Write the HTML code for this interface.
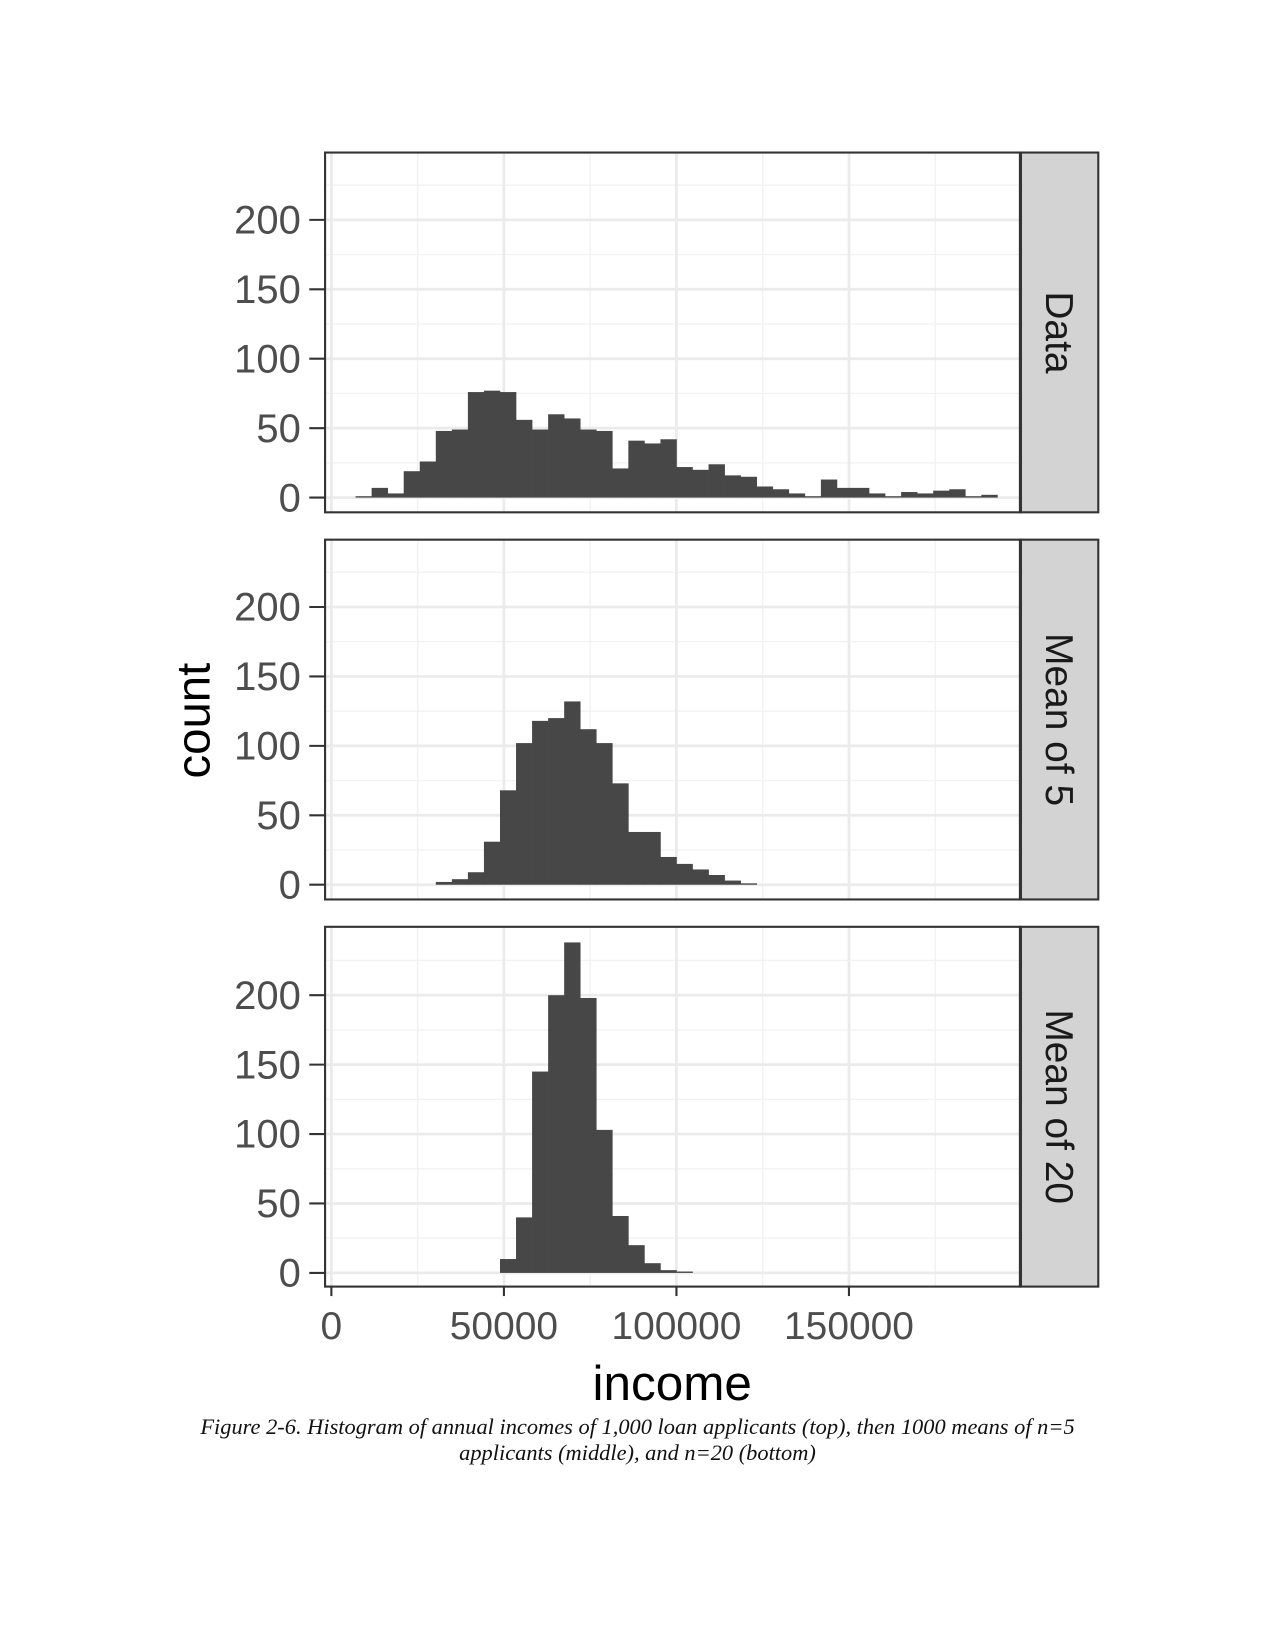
<!DOCTYPE html>
<html><head><meta charset="utf-8"><style>
html,body{margin:0;padding:0;background:#fff;overflow:hidden;width:1275px;height:1650px;}
svg{display:block;}
#wrap{position:relative;width:1212px;height:1568px;overflow:hidden;transform:scale(1.052);transform-origin:0 0;}
.cap{position:absolute;left:0;top:1344px;width:1212px;text-align:center;font-family:"Liberation Serif",serif;font-style:italic;font-size:21.3px;line-height:25px;color:#111;}
</style></head><body>
<div id="wrap">
<svg id="chart" width="1212" height="1568"></svg>
<div class="cap">Figure 2-6. Histogram of annual incomes of 1,000 loan applicants (top), then 1000 means of n=5<br>applicants (middle), and n=20 (bottom)</div>
</div>
<script>
const panelNames = ["Data","Mean of 5","Mean of 20"];
const binWidth = 4650;
const binStart = 7012;
const dataStartBin = 0;
const dataCounts = [1,7,3,19,26,48,49,76,77,76,56,49,60,57,49,48,21,41,39,42,22,20,24,16,15,8,6,3,1,13,7,7,3,1,4,3,5,6,1,2];
const mean5StartBin = 5;
const mean5Counts = [2,4,9,31,68,102,118,120,132,112,102,73,38,38,20,15,11,7,3,1];
const mean20StartBin = 9;
const mean20Counts = [10,40,145,200,238,198,103,41,20,7,2,1];
const yTicks = [0,50,100,150,200];
const xTicks = [0,50000,100000,150000];

const NS="http://www.w3.org/2000/svg";
const svg=document.getElementById('chart');
function el(t,a,p){const e=document.createElementNS(NS,t);for(const k in a)e.setAttribute(k,a[k]);(p||svg).appendChild(e);return e;}
const PL=309,PR=970,SR=1044;
const tops=[145,513,881],H=342;
const zeroY=[473,841,1210];
const pxPerCount=1.32;
function xs(v){return 315+(v/50000)*164;}
const series=[[dataStartBin,dataCounts],[mean5StartBin,mean5Counts],[mean20StartBin,mean20Counts]];
for(let p=0;p<3;p++){
  const g=el('g',{});
  
  
  const ys=v=>zeroY[p]-v*pxPerCount;
  const t=tops[p];
  el('rect',{x:PL,y:t,width:PR-PL,height:H,fill:'#fff'},g);
  for(let v=25000;v<200000;v+=50000) el('line',{x1:xs(v),x2:xs(v),y1:t,y2:t+H,stroke:'#f2f2f2','stroke-width':1.3},g);
  for(let c=25;c<=225;c+=50) el('line',{x1:PL,x2:PR,y1:ys(c),y2:ys(c),stroke:'#f2f2f2','stroke-width':1.3},g);
  for(const v of xTicks) el('line',{x1:xs(v),x2:xs(v),y1:t,y2:t+H,stroke:'#ebebeb','stroke-width':2.6},g);
  for(const c of yTicks) el('line',{x1:PL,x2:PR,y1:ys(c),y2:ys(c),stroke:'#ebebeb','stroke-width':2.6},g);
  const [sb,counts]=series[p];
  counts.forEach((c,i)=>{
    const x0=xs(binStart+(sb+i)*binWidth), x1=xs(binStart+(sb+i+1)*binWidth);
    const r=el('rect',{x:x0,y:ys(c),width:x1-x0+0.3,height:c*pxPerCount,fill:'#474747'},g);
    
    
  });
  el('rect',{x:PL,y:t,width:PR-PL,height:H,fill:'none',stroke:'#333','stroke-width':2},g);
  const s=el('rect',{x:PR,y:t,width:SR-PR,height:H,fill:'#d3d3d3',stroke:'#333','stroke-width':2},g);
  
  
  el('line',{x1:PR,x2:PR,y1:t,y2:t+H,stroke:'#333','stroke-width':3},g);
  const st=el('text',{x:0,y:0,transform:`translate(${PR+36},${t+H/2}) rotate(90)`,'text-anchor':'middle','dominant-baseline':'central','font-family':'Liberation Sans, sans-serif','font-size':37,fill:'#1a1a1a'},g);
  st.textContent=panelNames[p];
  
  
  for(const c of yTicks){
    el('line',{x1:294,x2:PL,y1:ys(c),y2:ys(c),stroke:'#333','stroke-width':2},g);
    const tl=el('text',{x:286,y:ys(c)+13,'text-anchor':'end','font-family':'Liberation Sans, sans-serif','font-size':38,fill:'#4d4d4d'},g);
    tl.textContent=c;
    
    
  }
}
for(const v of xTicks){
  el('line',{x1:xs(v),x2:xs(v),y1:1223,y2:1232,stroke:'#333','stroke-width':2});
  const tl=el('text',{x:xs(v),y:1273,'text-anchor':'middle','font-family':'Liberation Sans, sans-serif','font-size':37,fill:'#4d4d4d'});
  tl.textContent=v;
  
  
}
const xt=el('text',{x:639,y:1331,'text-anchor':'middle','font-family':'Liberation Sans, sans-serif','font-size':47,fill:'#000'});
xt.textContent='income';


const yt=el('text',{x:0,y:0,transform:'translate(199,685) rotate(-90)','text-anchor':'middle','font-family':'Liberation Sans, sans-serif','font-size':45,fill:'#000'});
yt.textContent='count';


</script>
</body></html>
